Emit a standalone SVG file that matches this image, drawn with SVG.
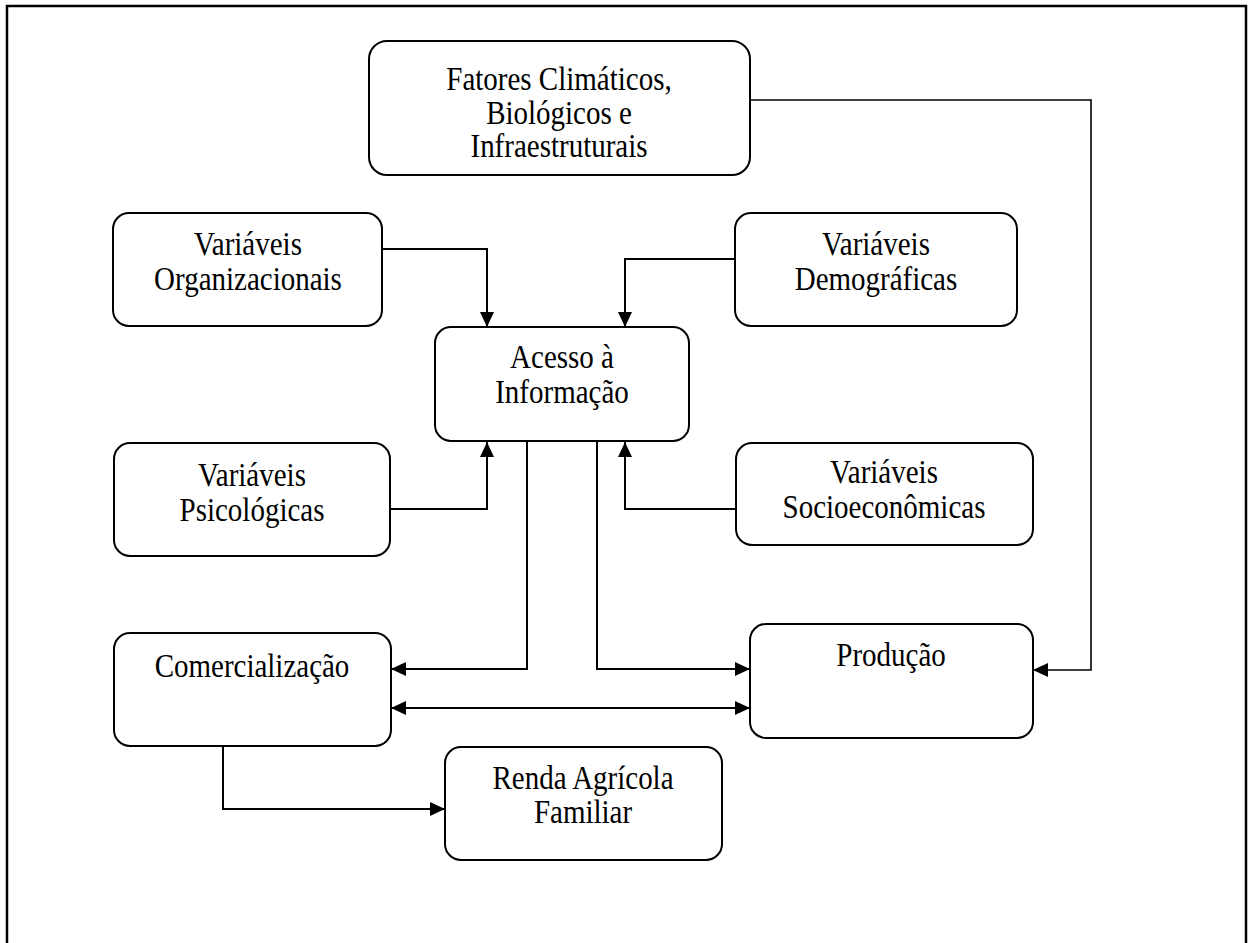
<svg xmlns="http://www.w3.org/2000/svg" width="1248" height="943" viewBox="0 0 1248 943">
<style>
.box{fill:#fff;stroke:#000;stroke-width:2}
.con{fill:none;stroke:#000;stroke-width:2}
.lbl{font-family:"Liberation Serif","Times New Roman",serif;font-size:29px;fill:#000;text-anchor:middle}
</style>
<defs>
<marker id="ah" viewBox="0 0 15 14" refX="15" refY="7" markerWidth="15" markerHeight="14" markerUnits="userSpaceOnUse" orient="auto-start-reverse"><path d="M0,0 L15,7 L0,14 z" fill="#000"/></marker>
</defs>
<rect width="1248" height="943" fill="#fff"/>
<path d="M7,950 V6 H1246 V950" fill="none" stroke="#000" stroke-width="2.5"/>

<g id="connectors">
<path class="con" d="M382,249 H487 V327" marker-end="url(#ah)"/>
<path class="con" d="M735,259 H625 V327" marker-end="url(#ah)"/>
<path class="con" d="M390,509 H487 V442" marker-end="url(#ah)"/>
<path class="con" d="M735,509 H625 V442" marker-end="url(#ah)"/>
<path class="con" d="M527,441 V669 H391" marker-end="url(#ah)"/>
<path class="con" d="M597,441 V669 H750" marker-end="url(#ah)"/>
<path class="con" d="M391,708 H750" marker-start="url(#ah)" marker-end="url(#ah)"/>
<path class="con" d="M223,746 V809 H445" marker-end="url(#ah)"/>
<path class="con" style="stroke-width:1.6" d="M750,100 H1091 V670 H1033" marker-end="url(#ah)"/>
</g>

<g id="fatores">
<rect class="box" x="369" y="41" width="381" height="134" rx="18"/>
<text class="lbl" transform="translate(559,90) scale(1,1.14)"><tspan x="0" y="0">Fatores Climáticos,</tspan><tspan x="0" y="29.4">Biológicos e</tspan><tspan x="0" y="58.8">Infraestruturais</tspan></text>
</g>
<g id="organizacionais">
<rect class="box" x="113" y="213" width="269" height="113" rx="16"/>
<text class="lbl" transform="translate(248,255) scale(1,1.14)"><tspan x="0" y="0">Variáveis</tspan><tspan x="0" y="30.5">Organizacionais</tspan></text>
</g>
<g id="demograficas">
<rect class="box" x="735" y="213" width="282" height="113" rx="16"/>
<text class="lbl" transform="translate(876,255) scale(1,1.14)"><tspan x="0" y="0">Variáveis</tspan><tspan x="0" y="30.5">Demográficas</tspan></text>
</g>
<g id="acesso">
<rect class="box" x="435" y="327" width="254" height="114" rx="16"/>
<text class="lbl" transform="translate(562,368) scale(1,1.14)"><tspan x="0" y="0">Acesso à</tspan><tspan x="0" y="30.5">Informação</tspan></text>
</g>
<g id="psicologicas">
<rect class="box" x="114" y="443" width="276" height="113" rx="16"/>
<text class="lbl" transform="translate(252,486) scale(1,1.14)"><tspan x="0" y="0">Variáveis</tspan><tspan x="0" y="30.5">Psicológicas</tspan></text>
</g>
<g id="socioeconomicas">
<rect class="box" x="736" y="443" width="297" height="102" rx="16"/>
<text class="lbl" transform="translate(884,483) scale(1,1.14)"><tspan x="0" y="0">Variáveis</tspan><tspan x="0" y="30.5">Socioeconômicas</tspan></text>
</g>
<g id="comercializacao">
<rect class="box" x="114" y="633" width="277" height="113" rx="16"/>
<text class="lbl" transform="translate(252,677) scale(1,1.14)">Comercialização</text>
</g>
<g id="producao">
<rect class="box" x="750" y="624" width="283" height="114" rx="16"/>
<text class="lbl" transform="translate(891,666) scale(1,1.14)">Produção</text>
</g>
<g id="renda">
<rect class="box" x="445" y="747" width="277" height="113" rx="16"/>
<text class="lbl" transform="translate(583,789) scale(1,1.14)"><tspan x="0" y="0">Renda Agrícola</tspan><tspan x="0" y="30">Familiar</tspan></text>
</g>
</svg>
